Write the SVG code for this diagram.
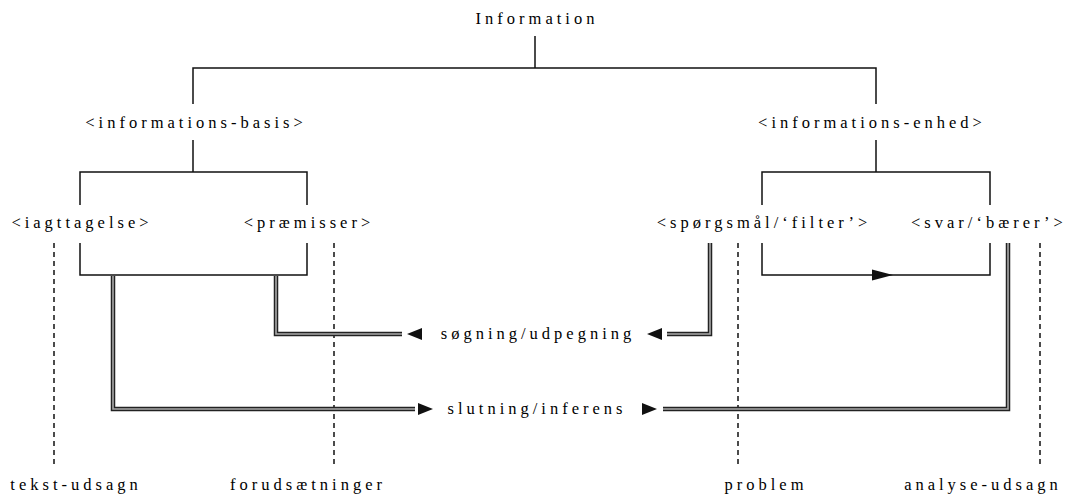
<svg xmlns="http://www.w3.org/2000/svg" width="1070" height="497" viewBox="0 0 1070 497">
<style>
text{font-family:"Liberation Serif","Times New Roman",serif;font-size:16.5px;letter-spacing:4px;fill:#000;text-anchor:middle}
.ln{fill:none;stroke:#111;stroke-width:1.5}
.dash{fill:none;stroke:#111;stroke-width:1.5;stroke-dasharray:5 4}
.dblo{fill:none;stroke:#222;stroke-width:4.5}
.dbli{fill:none;stroke:#aaa;stroke-width:1.6}
.ah{fill:#111}
</style>
<rect width="1070" height="497" fill="#fff"/>
<g id="n-information"><text x="537" y="24">Information</text></g>
<g id="n-basis"><text x="196" y="128">&lt;informations-basis&gt;</text></g>
<g id="n-enhed"><text x="872" y="128">&lt;informations-enhed&gt;</text></g>
<g id="n-iagttagelse"><text x="82" y="228">&lt;iagttagelse&gt;</text></g>
<g id="n-praemisser"><text x="309" y="228">&lt;præmisser&gt;</text></g>
<g id="n-spoergsmaal"><text x="764" y="228">&lt;spørgsmål/‘filter’&gt;</text></g>
<g id="n-svar"><text x="989" y="228">&lt;svar/‘bærer’&gt;</text></g>
<g id="n-soegning"><text x="538" y="339">søgning/udpegning</text></g>
<g id="n-slutning"><text x="537" y="414">slutning/inferens</text></g>
<g id="n-tekst"><text x="76" y="490">tekst-udsagn</text></g>
<g id="n-forud"><text x="308" y="490">forudsætninger</text></g>
<g id="n-problem"><text x="766" y="490">problem</text></g>
<g id="n-analyse"><text x="983" y="490">analyse-udsagn</text></g>
<g id="connectors">
<path class="ln" d="M535 36V68M193 104V68H876V104"/>
<path class="ln" d="M193 140V172M80 205V172H307V205"/>
<path class="ln" d="M876 140V172M762 205V172H990V205"/>
<path class="ln" d="M80 243V275H307V243"/>
<path class="ln" d="M762 243V275H990V243"/>
<polygon class="ah" points="872,269.5 893,275 872,280.5"/>
<path class="dash" d="M54 243V468M334 243V468M738 243V468M1040 243V468"/>
<path class="dblo" d="M113 276V409H415M663 409H1008V243"/>
<path class="dbli" d="M113 276V409H415M663 409H1008V243"/>
<path class="dblo" d="M276 276V334H402M667 334H710V243"/>
<path class="dbli" d="M276 276V334H402M667 334H710V243"/>
<polygon class="ah" points="418,403 433,409 418,415"/>
<polygon class="ah" points="642,403 657,409 642,415"/>
<polygon class="ah" points="422,328 407,334 422,340"/>
<polygon class="ah" points="662,328 647,334 662,340"/>
</g>
</svg>
